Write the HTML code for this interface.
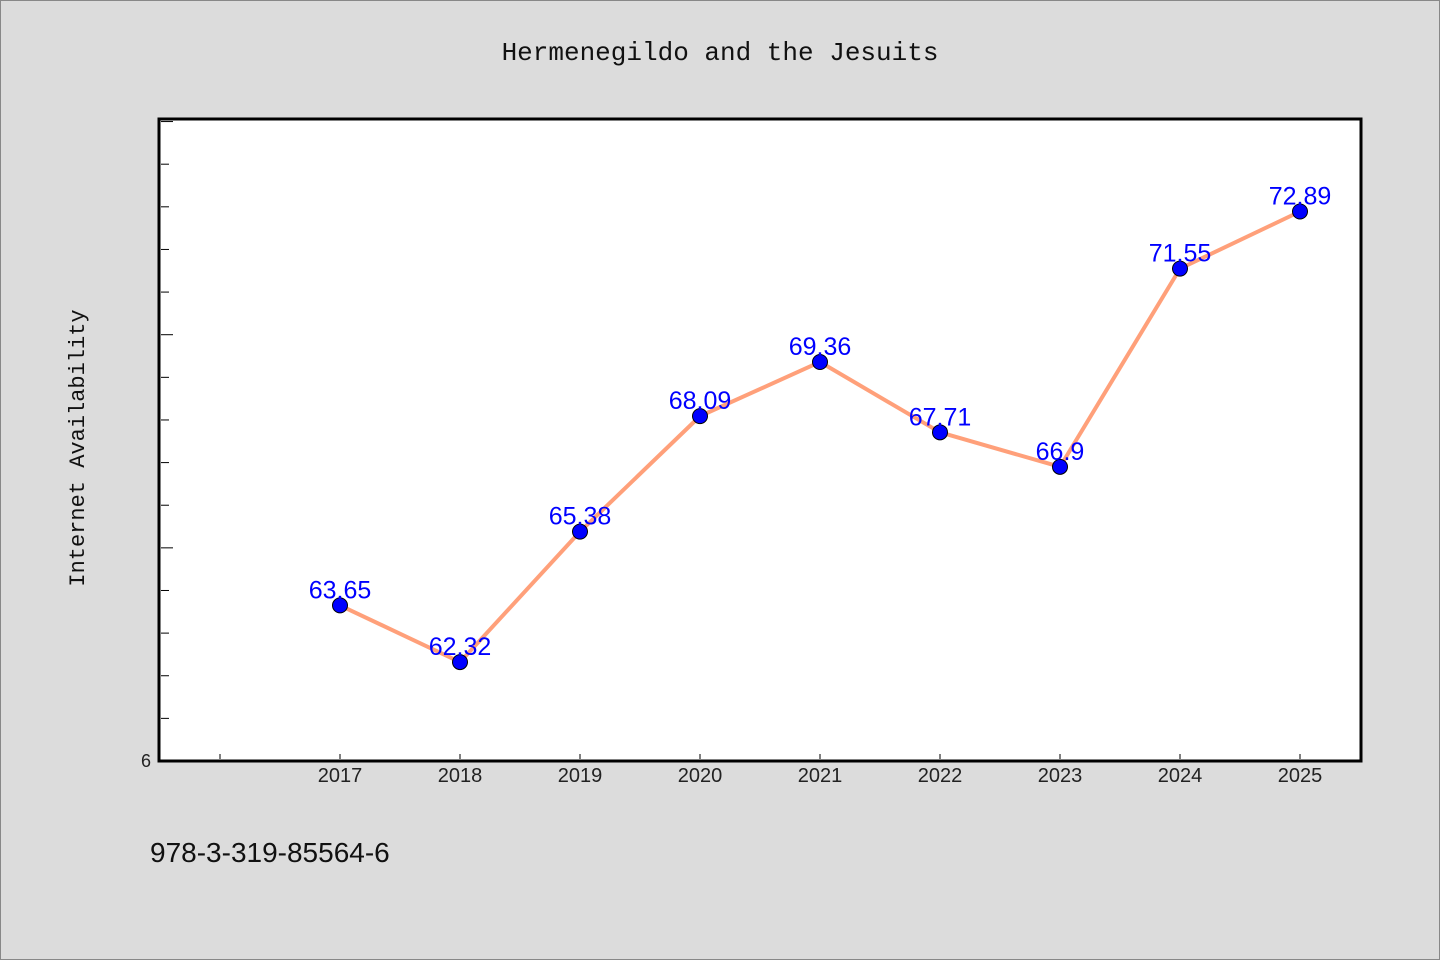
<!DOCTYPE html>
<html><head><meta charset="utf-8"><style>
body{margin:0;background:#dcdcdc;}
svg{display:block;font-family:"Liberation Sans","DejaVu Sans",sans-serif;}
</style></head><body>
<svg width="1440" height="960">
<rect x="0.5" y="0.5" width="1439" height="959" fill="#dcdcdc" stroke="#888"/>
<text x="720" y="60" text-anchor="middle" font-size="26" font-family="Liberation Mono, monospace" fill="#111">Hermenegildo and the Jesuits</text>
<rect x="159" y="119" width="1202" height="642" fill="#fff" stroke="#000" stroke-width="3"/>
<text transform="translate(84,448) rotate(-90)" text-anchor="middle" font-size="22" font-family="Liberation Mono, monospace" fill="#111">Internet Availability</text>
<text x="146" y="767" text-anchor="middle" font-size="18" fill="#222">6</text>
<text x="150" y="862" font-size="28" fill="#111">978-3-319-85564-6</text>
<g id="ticks"></g><g id="marks"></g>
</svg>
<script>
const years=[2017,2018,2019,2020,2021,2022,2023,2024,2025];
const values=[63.65,62.32,65.38,68.09,69.36,67.71,66.9,71.55,72.89];
const labels=["63.65","62.32","65.38","68.09","69.36","67.71","66.9","71.55","72.89"];
const yMin=60,yMax=75.06;
const X=y=>340+(y-2017)*120;
const Y=v=>761-(v-yMin)/(yMax-yMin)*642;
const NS="http://www.w3.org/2000/svg";
const tk=document.getElementById('ticks'),mk=document.getElementById('marks');
function el(t,a,p){const e=document.createElementNS(NS,t);for(const k in a)e.setAttribute(k,a[k]);p.appendChild(e);return e;}
for(let v=61;v<=75;v++){
 const l=el('line',{x1:161,x2:v%5==0?173:169,y1:Y(v),y2:Y(v),stroke:'#000','stroke-width':1},tk);
 
 
}
for(let yr=2016;yr<=2025;yr++){
 const l=el('line',{x1:X(yr),x2:X(yr),y1:759,y2:754,stroke:'#000','stroke-width':1},tk);
 
 
 if(yr>=2017){const t=el('text',{x:X(yr),y:782,'text-anchor':'middle','font-size':20,fill:'#222'},tk);t.textContent=yr;
 
 }
}
const pl=el('polyline',{points:years.map((y,i)=>X(y)+','+Y(values[i])).join(' '),fill:'none',stroke:'#ffa07a','stroke-width':4,'stroke-linejoin':'round'},mk);


years.forEach((y,i)=>{
 const c=el('circle',{cx:X(y),cy:Y(values[i]),r:7.5,fill:'#0000ff',stroke:'#000','stroke-width':1},mk);
 
 
 const t=el('text',{x:X(y),y:Y(values[i])-7,'text-anchor':'middle','font-size':25,fill:'#0000ff'},mk);
 t.textContent=labels[i];
 
 
});
</script>
</body></html>
